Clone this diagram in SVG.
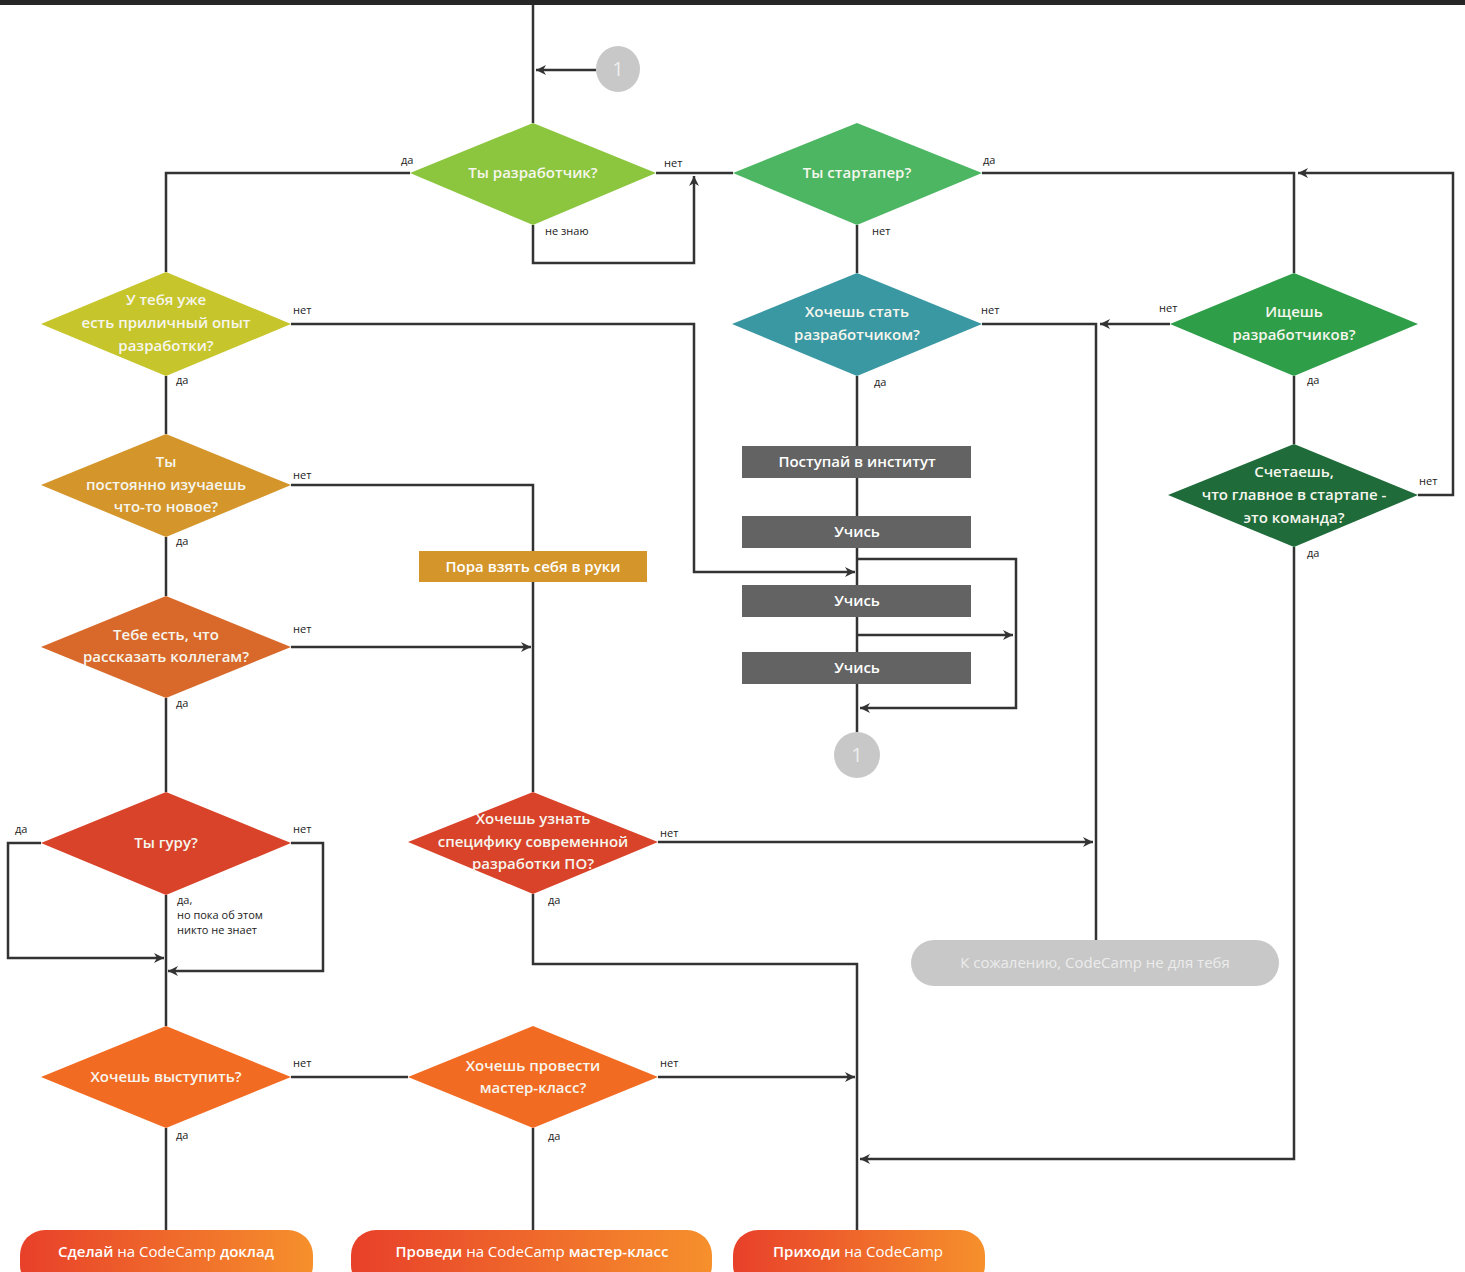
<svg xmlns="http://www.w3.org/2000/svg" width="1465" height="1272" viewBox="0 0 1465 1272">
<defs>
<style>
.ln{fill:none;stroke:#333;stroke-width:2.5}
.lb{font-family:"Open Sans","Liberation Sans",sans-serif;font-size:11px;fill:#222}
.dt{font-family:"Open Sans","Liberation Sans",sans-serif;font-size:15px;font-weight:600;fill:#f6f6ee;text-anchor:middle}
.bt{font-family:"Open Sans","Liberation Sans",sans-serif;font-size:15px;font-weight:600;fill:#ffffff;text-anchor:middle}
.pt{font-family:"Open Sans","Liberation Sans",sans-serif;font-size:15px;fill:#ececec;text-anchor:middle}
.ct{font-family:"Open Sans","Liberation Sans",sans-serif;font-size:20px;fill:#eeeeee;text-anchor:middle}
.nb{font-weight:400}
</style>
<marker id="ar" viewBox="0 0 10 10" refX="10" refY="5" markerWidth="10" markerHeight="10" markerUnits="userSpaceOnUse" orient="auto">
<path d="M0,0 L10,5 L0,10 L3,5 Z" fill="#333"/>
</marker>
<linearGradient id="og" x1="0" y1="0" x2="1" y2="0">
<stop offset="0" stop-color="#e8402a"/>
<stop offset="1" stop-color="#f6902c"/>
</linearGradient>
</defs>
<rect x="0" y="0" width="1465" height="1272" fill="#ffffff"/>
<rect x="0" y="0" width="1465" height="5" fill="#262626"/>

<g id="connectors">
<path class="ln" d="M533,5 V123"/>
<path class="ln" d="M596,70 H536" marker-end="url(#ar)"/>
<path class="ln" d="M410,173 H166 V272"/>
<path class="ln" d="M656,173 H733"/>
<path class="ln" d="M533,225 V263 H694 V176" marker-end="url(#ar)"/>
<path class="ln" d="M982,173 H1294 V273"/>
<path class="ln" d="M857,225 V273"/>
<path class="ln" d="M1418,495 H1453 V173 H1298" marker-end="url(#ar)"/>
<path class="ln" d="M982,324 H1096 V940"/>
<path class="ln" d="M1170,324 H1100" marker-end="url(#ar)"/>
<path class="ln" d="M1294,376 V444"/>
<path class="ln" d="M1294,547 V1159 H860" marker-end="url(#ar)"/>
<path class="ln" d="M857,376 V732"/>
<path class="ln" d="M857,559 H1016 V708 H860" marker-end="url(#ar)"/>
<path class="ln" d="M857,635 H1013" marker-end="url(#ar)"/>
<path class="ln" d="M291,324 H694 V572 H855" marker-end="url(#ar)"/>
<path class="ln" d="M166,376 V434"/>
<path class="ln" d="M291,485 H533 V551"/>
<path class="ln" d="M166,537 V596"/>
<path class="ln" d="M533,582 V792"/>
<path class="ln" d="M291,647 H531" marker-end="url(#ar)"/>
<path class="ln" d="M166,698 V792"/>
<path class="ln" d="M41,843 H8 V958 H164" marker-end="url(#ar)"/>
<path class="ln" d="M291,843 H323 V971 H168" marker-end="url(#ar)"/>
<path class="ln" d="M166,895 V1026"/>
<path class="ln" d="M658,842 H1093" marker-end="url(#ar)"/>
<path class="ln" d="M533,894 V964 H857 V1230"/>
<path class="ln" d="M291,1077 H408"/>
<path class="ln" d="M658,1077 H855" marker-end="url(#ar)"/>
<path class="ln" d="M166,1128 V1230"/>
<path class="ln" d="M533,1128 V1230"/>
<text class="lb" x="401" y="164">да</text>
<text class="lb" x="664" y="167">нет</text>
<text class="lb" x="545" y="235">не знаю</text>
<text class="lb" x="983" y="164">да</text>
<text class="lb" x="872" y="235">нет</text>
<text class="lb" x="981" y="314">нет</text>
<text class="lb" x="874" y="386">да</text>
<text class="lb" x="1159" y="312">нет</text>
<text class="lb" x="1307" y="384">да</text>
<text class="lb" x="1419" y="485">нет</text>
<text class="lb" x="1307" y="557">да</text>
<text class="lb" x="293" y="314">нет</text>
<text class="lb" x="176" y="384">да</text>
<text class="lb" x="293" y="479">нет</text>
<text class="lb" x="176" y="545">да</text>
<text class="lb" x="293" y="633">нет</text>
<text class="lb" x="176" y="707">да</text>
<text class="lb" x="15" y="833">да</text>
<text class="lb" x="293" y="833">нет</text>
<text class="lb" x="177" y="904">да,</text>
<text class="lb" x="177" y="919">но пока  об этом</text>
<text class="lb" x="177" y="934">никто не знает</text>
<text class="lb" x="660" y="837">нет</text>
<text class="lb" x="548" y="904">да</text>
<text class="lb" x="293" y="1067">нет</text>
<text class="lb" x="176" y="1139">да</text>
<text class="lb" x="660" y="1067">нет</text>
<text class="lb" x="548" y="1140">да</text>
</g>

<g id="c1top"><ellipse cx="618" cy="69" rx="22" ry="23" fill="#c8c8c8"/><text class="ct" x="618" y="76">1</text></g>
<g id="c1bot"><ellipse cx="857" cy="755" rx="23" ry="23" fill="#c8c8c8"/><text class="ct" x="857" y="762">1</text></g>

<g id="d-dev"><polygon points="533,123 656,173 533,225 410,173" fill="#8cc63f"/><text class="dt" x="533" y="178">Ты разработчик?</text></g>
<g id="d-startup"><polygon points="857,123 982,173 857,225 733,173" fill="#4db663"/><text class="dt" x="857" y="178">Ты стартапер?</text></g>
<g id="d-wantdev"><polygon points="857,273 982,324 857,376 732,324" fill="#3a98a3"/><text class="dt" x="857" y="317">Хочешь стать</text><text class="dt" x="857" y="340">разработчиком?</text></g>
<g id="d-seek"><polygon points="1294,273 1418,324 1294,376 1170,324" fill="#2f9e48"/><text class="dt" x="1294" y="317">Ищешь</text><text class="dt" x="1294" y="340">разработчиков?</text></g>
<g id="d-team"><polygon points="1294,444 1418,495 1294,547 1168,495" fill="#1f6b3a"/><text class="dt" x="1294" y="477">Счетаешь,</text><text class="dt" x="1294" y="500">что главное в стартапе -</text><text class="dt" x="1294" y="523">это команда?</text></g>
<g id="d-exp"><polygon points="166,272 291,324 166,376 41,324" fill="#c6c52b"/><text class="dt" x="166" y="305">У тебя уже</text><text class="dt" x="166" y="328">есть приличный опыт</text><text class="dt" x="166" y="351">разработки?</text></g>
<g id="d-learn"><polygon points="166,434 291,485 166,537 41,485" fill="#d4952b"/><text class="dt" x="166" y="467">Ты</text><text class="dt" x="166" y="490">постоянно изучаешь</text><text class="dt" x="166" y="512">что-то новое?</text></g>
<g id="d-tell"><polygon points="166,596 291,647 166,698 41,647" fill="#d8692a"/><text class="dt" x="166" y="640">Тебе есть, что</text><text class="dt" x="166" y="662">рассказать коллегам?</text></g>
<g id="d-guru"><polygon points="166,792 291,843 166,895 41,843" fill="#d9432a"/><text class="dt" x="166" y="848">Ты гуру?</text></g>
<g id="d-know"><polygon points="533,792 658,842 533,894 408,842" fill="#d9432a"/><text class="dt" x="533" y="824">Хочешь узнать</text><text class="dt" x="533" y="847">специфику современной</text><text class="dt" x="533" y="869">разработки ПО?</text></g>
<g id="d-talk"><polygon points="166,1026 291,1077 166,1128 41,1077" fill="#f26b22"/><text class="dt" x="166" y="1082">Хочешь выступить?</text></g>
<g id="d-master"><polygon points="533,1026 658,1077 533,1128 408,1077" fill="#f26b22"/><text class="dt" x="533" y="1071">Хочешь провести</text><text class="dt" x="533" y="1093">мастер-класс?</text></g>

<g id="b-hands"><rect x="419" y="551" width="228" height="31" fill="#d4952b"/><text class="bt" x="533" y="572">Пора взять себя в руки</text></g>
<g id="b-inst"><rect x="742" y="446" width="229" height="32" fill="#636363"/><text class="bt" x="857" y="467">Поступай в институт</text></g>
<g id="b-learn1"><rect x="742" y="516" width="229" height="32" fill="#636363"/><text class="bt" x="857" y="537">Учись</text></g>
<g id="b-learn2"><rect x="742" y="585" width="229" height="32" fill="#636363"/><text class="bt" x="857" y="606">Учись</text></g>
<g id="b-learn3"><rect x="742" y="652" width="229" height="32" fill="#636363"/><text class="bt" x="857" y="673">Учись</text></g>

<g id="p-sorry"><rect x="911" y="940" width="368" height="46" rx="23" fill="#c8c8c8"/><text class="pt" x="1095" y="968">К сожалению, CodeCamp не для тебя</text></g>

<g id="e-report"><rect x="20" y="1230" width="293" height="60" rx="25" fill="url(#og)"/><text class="bt" x="166" y="1257">Сделай <tspan class="nb">на CodeCamp</tspan> доклад</text></g>
<g id="e-master"><rect x="351" y="1230" width="361" height="60" rx="25" fill="url(#og)"/><text class="bt" x="532" y="1257">Проведи <tspan class="nb">на CodeCamp</tspan> мастер-класс</text></g>
<g id="e-come"><rect x="733" y="1230" width="252" height="60" rx="25" fill="url(#og)"/><text class="bt" x="858" y="1257">Приходи <tspan class="nb">на CodeCamp</tspan></text></g>
</svg>
